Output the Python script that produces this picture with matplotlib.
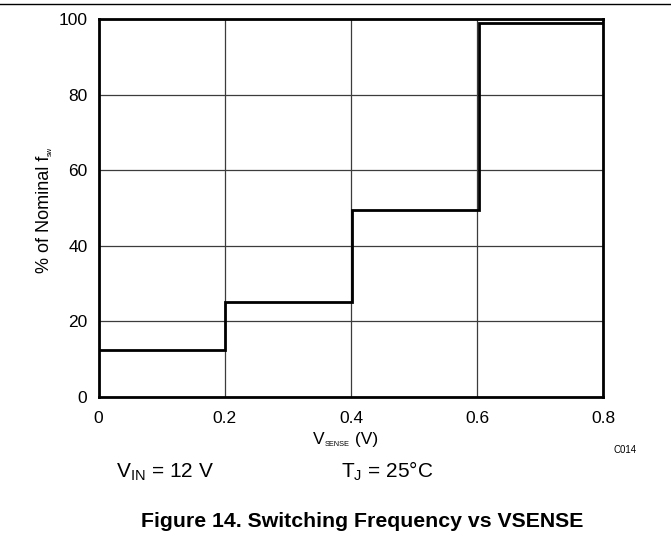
import matplotlib
matplotlib.use("Agg")
import matplotlib.pyplot as plt

plt.rcParams['font.family'] = ['Liberation Sans', 'DejaVu Sans']

# step edges (V) and level (% of nominal fsw)
v_sense = [0.0, 0.2, 0.2, 0.402, 0.402, 0.603, 0.603, 0.8]
pct_fsw = [12.4, 12.4, 25.0, 25.0, 49.6, 49.6, 99.0, 99.0]
xticks = [0, 0.2, 0.4, 0.6, 0.8]
xticklabels = ['0', '0.2', '0.4', '0.6', '0.8']
yticks = [0, 20, 40, 60, 80, 100]

W, H = 671, 554
fig = plt.figure(figsize=(W / 100, H / 100), dpi=100)
ax = fig.add_axes([0.1468, 0.2834, 0.7526, 0.6823])
rend = fig.canvas.get_renderer()


def chain(x, y, parts, rot=False):
    # parts: (text, size, drop_px) placed one after another, y measured from top
    for s, size, drop in parts:
        if rot:
            t = fig.text((x + drop) / W, (H - y) / H, s, fontsize=size, rotation=90,
                         rotation_mode='anchor', ha='left', va='baseline')
            y = H - t.get_window_extent(rend).y1
        else:
            t = fig.text(x / W, (H - y - drop) / H, s, fontsize=size,
                         ha='left', va='baseline')
            x = t.get_window_extent(rend).x1


ax.plot(v_sense, pct_fsw, color='black', lw=2, solid_joinstyle='miter')
ax.set_xlim(0, 0.8)
ax.set_ylim(0, 100)
ax.set_xticks(xticks)
ax.set_xticklabels(xticklabels)
ax.set_yticks(yticks)
ax.grid(True, color='#3c3c3c', lw=0.9)
ax.tick_params(length=0, labelsize=12.5)
ax.tick_params(axis='x', pad=10)
ax.tick_params(axis='y', pad=8)
for s in ax.spines.values():
    s.set_linewidth(2)

# axis labels with the small subscripts of the original
chain(313, 444, [('V', 12.5, 0), ('SENSE', 5.3, 1.5), (' (V)', 12.5, 0)])
chain(49, 273, [('% of Nominal f', 13, 0), ('sw', 5.3, 3)], rot=True)

fig.text(614 / W, (H - 453) / H, 'C014', fontsize=7, va='baseline')
fig.text(116 / W, (H - 477) / H, r'V$_{\mathregular{IN}}$ = 12 V', fontsize=15, va='baseline')
fig.text(341 / W, (H - 477) / H, r'T$_{\mathregular{J}}$ = 25°C', fontsize=15, va='baseline')
fig.text(362 / W, (H - 527) / H, 'Figure 14. Switching Frequency vs VSENSE',
         fontsize=15.3, fontweight='bold', ha='center', va='baseline')

fig.add_artist(plt.Line2D([0, 1], [0.9922, 0.9922], color='black', lw=1,
                          transform=fig.transFigure))

fig.savefig('out.png', dpi=100)
